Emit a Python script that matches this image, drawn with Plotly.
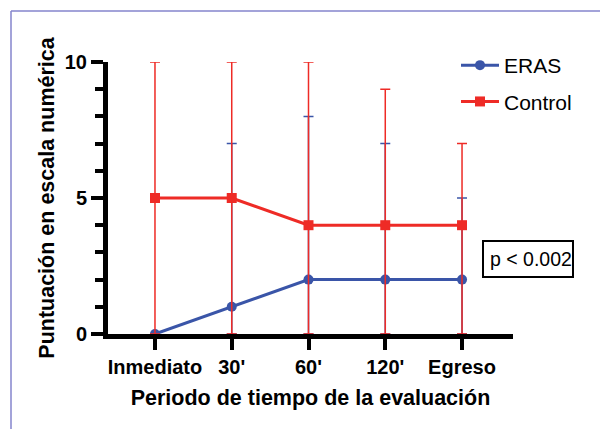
import plotly.graph_objects as go

categories = ["Inmediato", "30'", "60'", "120'", "Egreso"]
eras_values = [0, 1, 2, 2, 2]
eras_upper = [0, 7, 8, 7, 5]
eras_lower = [0, 0, 0, 0, 0]
control_values = [5, 5, 4, 4, 4]
control_upper = [10, 10, 10, 9, 7]
control_lower = [0, 0, 0, 0, 0]
y_ticks = [0, 5, 10]

BLUE = "#3a55a8"
RED = "#ee2b26"
FONT = "Liberation Sans"

L, R, T, B = 108, 87, 62, 95
W, H = 600, 429
pw, ph = W - L - R, H - T - B


def px_x(p):
    return (p - L) / pw


def px_y(p):
    return (H - B - p) / ph


xi = list(range(len(categories)))

fig = go.Figure()
fig.add_trace(go.Scatter(
    x=xi, y=eras_values, name="ERAS", mode="lines+markers",
    line=dict(color=BLUE, width=3),
    marker=dict(symbol="circle", size=10, color=BLUE),
    error_y=dict(type="data", symmetric=False,
                 array=[u - v for u, v in zip(eras_upper, eras_values)],
                 arrayminus=[v - l for v, l in zip(eras_values, eras_lower)],
                 color=BLUE, thickness=1.5, width=5),
    legendgroup="a", cliponaxis=False,
))
fig.add_trace(go.Scatter(
    x=xi, y=control_values, name="Control", mode="lines+markers",
    line=dict(color=RED, width=3),
    marker=dict(symbol="square", size=10, color=RED),
    error_y=dict(type="data", symmetric=False,
                 array=[u - v for u, v in zip(control_upper, control_values)],
                 arrayminus=[v - l for v, l in zip(control_values, control_lower)],
                 color=RED, thickness=1.5, width=5),
    legendgroup="b", cliponaxis=False,
))

fig.update_layout(
    width=W, height=H,
    margin=dict(l=L, r=R, t=T, b=B),
    paper_bgcolor="white", plot_bgcolor="white",
    font=dict(family=FONT, color="black"),
    legend=dict(x=px_x(456), y=px_y(45), xanchor="left", yanchor="top",
                font=dict(size=21, family=FONT, color="black"),
                traceorder="grouped", tracegroupgap=6, itemwidth=38),
    shapes=[
        dict(type="line", xref="paper", yref="paper", x0=px_x(11), x1=px_x(600),
             y0=px_y(11), y1=px_y(11), line=dict(color="#8585cc", width=1.5)),
        dict(type="line", xref="paper", yref="paper", x0=px_x(11), x1=px_x(11),
             y0=px_y(11), y1=px_y(429), line=dict(color="#8585cc", width=1.5)),
        dict(type="rect", xref="paper", yref="paper", x0=px_x(483), x1=px_x(573),
             y0=px_y(277), y1=px_y(241), line=dict(color="black", width=2)),
    ],
    annotations=[
        dict(text="p < 0.002", xref="paper", yref="paper", x=px_x(530.5), y=px_y(259),
             xanchor="center", yanchor="middle", showarrow=False,
             font=dict(size=19.5, family=FONT, color="black")),
    ],
)
fig.update_xaxes(
    range=[-0.612, 4.664], tickmode="array", tickvals=xi,
    ticktext=["<b>%s</b>" % c for c in categories],
    showgrid=False, zeroline=False,
    showline=True, linecolor="black", linewidth=5,
    ticks="outside", ticklen=11, tickwidth=4, tickcolor="black",
    tickfont=dict(size=20, family=FONT, color="black"),
    title=dict(text="<b>Periodo de tiempo de la evaluación</b>",
               font=dict(size=21.5, family=FONT, color="black"), standoff=14),
)
fig.update_yaxes(
    range=[0, 10], tickmode="linear", tick0=0, dtick=5,
    ticktext=None,
    showgrid=False, zeroline=False,
    showline=True, linecolor="black", linewidth=5,
    ticks="outside", ticklen=12, tickwidth=4, tickcolor="black",
    minor=dict(dtick=1, ticks="outside", ticklen=8, tickwidth=4, tickcolor="black"),
    tickfont=dict(size=20, family=FONT, color="black", weight="bold"),
    title=dict(text="<b>Puntuación en escala numérica</b>",
               font=dict(size=21.5, family=FONT, color="black"), standoff=6),
)

fig.write_html("out.html")
